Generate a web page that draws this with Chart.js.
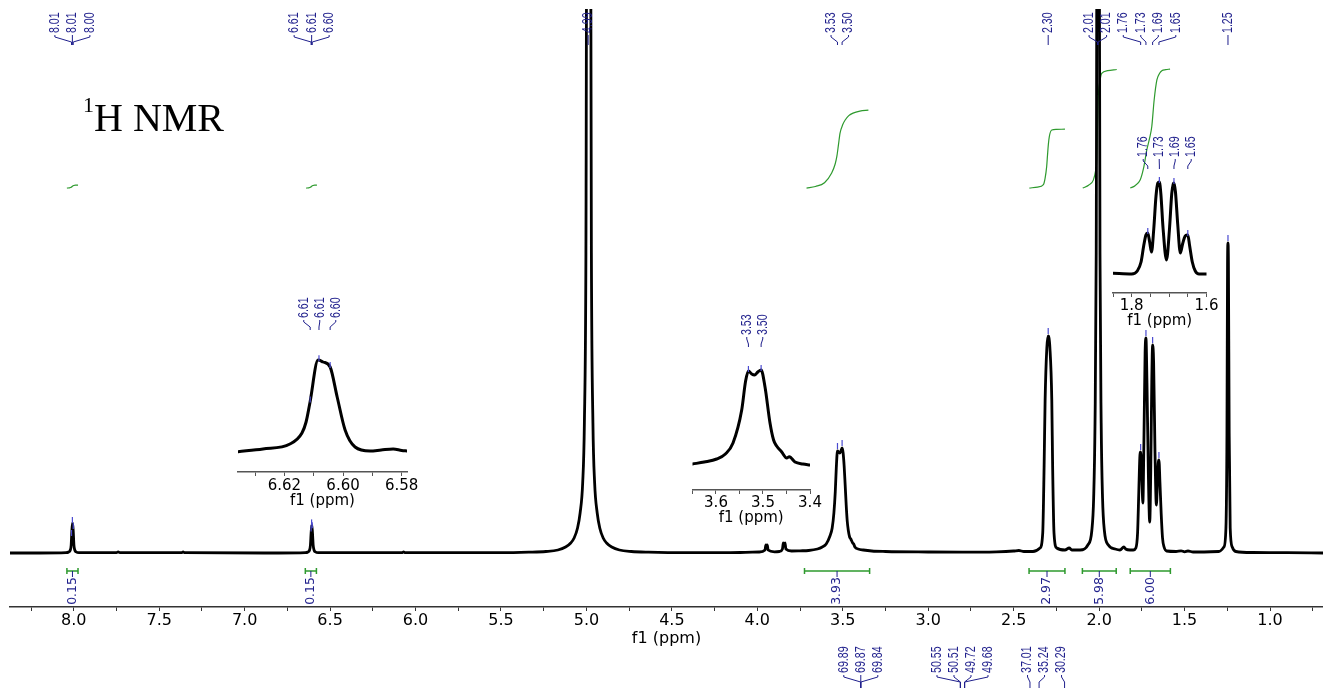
<!DOCTYPE html>
<html><head><meta charset="utf-8">
<script src="https://cdn.jsdelivr.net/npm/chart.js@4.4.0/dist/chart.umd.min.js"></script>
<style>
html,body{margin:0;padding:0;background:#fff;}
#wrap{position:relative;width:1323px;height:688px;overflow:hidden;background:#fff;}
canvas{position:absolute;}
</style></head><body>
<div id="wrap">
<canvas id="main" width="1323" height="688" style="left:0;top:0"></canvas>
<canvas id="in1"></canvas>
<canvas id="in2"></canvas>
<canvas id="in3"></canvas>
</div>
<script>
// ---------------- DATA ----------------
// main 1H spectrum: chemical shift (ppm) and intensity (arbitrary units)
const specPpm = [8.373,8.20,8.045,8.03,8.02,8.015,8.011,8.007,8.003,7.999,7.994,7.985,7.97,7.75,7.74,7.73,7.37,7.36,7.35,6.80,
6.645,6.63,6.62,6.615,6.611,6.607,6.603,6.599,6.594,6.585,6.57,6.08,6.07,6.06,5.50,
5.337,5.237,5.167,5.122,5.092,5.072,5.052,5.037,5.022,5.012,5.003,4.996,4.978,4.971,4.962,4.952,4.937,4.922,4.902,4.882,4.852,4.807,4.737,4.637,
4.40,4.10,3.99,3.955,3.950,3.946,3.942,3.937,3.90,3.87,3.853,3.848,3.843,3.838,3.833,3.80,3.75,3.70,
3.648,3.62,3.597,3.575,3.562,3.552,3.544,3.538,3.531,3.524,3.518,3.511,3.504,3.498,3.492,3.486,3.480,3.474,3.468,3.460,3.453,3.442,3.436,3.429,3.41,3.38,3.33,3.25,
3.00,2.80,2.60,2.50,2.47,2.44,2.387,2.346,2.330,2.322,2.316,2.306,2.298,2.288,2.277,2.272,2.264,2.248,2.20,2.175,2.16,2.111,
2.066,2.043,2.032,2.024,2.017,2.010,2.002,1.995,1.988,1.980,1.969,1.946,1.906,1.878,1.855,1.845,1.819,
1.80,1.785,1.775,1.768,1.762,1.757,1.750,1.744,1.738,1.731,1.726,1.720,1.712,1.704,1.698,1.692,1.687,1.681,1.673,1.665,1.659,1.654,1.650,1.644,1.637,1.629,1.620,1.605,
1.55,1.52,1.50,1.48,1.45,1.30,1.270,1.258,1.252,1.2485,1.246,1.2435,1.239,1.233,1.221,1.20,1.10,0.90,0.69];
const specInt = [0,0,0.3,1,3,8,22,30,22,8,3,1,0.3,0.3,1.2,0.3,0.3,1,0.3,0,
0.3,1,3,8,20,28,20,8,3,1,0.3,0.3,1,0.3,0.3,
0.8,1.5,3,6,10,15,25,40,70,130,300,800,800,300,130,70,40,25,15,10,6,3,1.5,0.8,
0.3,0.5,1,3,8,6,8,3,1.2,1.5,4,10,7,10,4,2,2.2,2.5,
4,6,9,17,25,40,61,85,102,101,100,102,105,100,87,68,48,32,23,16,14,10,9,6,4,3,2,1.5,
1,0.8,1.2,2,2.5,1.5,1.5,5,20,86,153,205,217,205,153,86,20,5,3,5,3,3,
8,22,55,130,300,800,800,300,130,55,22,8,4,3,6,4,3,
3,5,20,60,95,101,75,50,110,200,215,170,80,31,80,170,208,190,100,48,70,90,93,70,40,15,6,2,
1.5,2.2,1.2,2,1,1.5,6,25,120,290,310,290,120,25,6,1.5,0.5,0.3,0];

// integral curves (ppm, cumulative integral)
const intCurvePpm = [
  [8.040,8.025,8.015,8.008,8.000,7.990,7.975],
  [6.640,6.625,6.615,6.608,6.600,6.590,6.577],
  [3.712,3.660,3.607,3.565,3.545,3.535,3.525,3.516,3.500,3.486,3.465,3.440,3.400,3.350],
  [2.408,2.360,2.326,2.316,2.307,2.302,2.297,2.291,2.277,2.250,2.200],
  [2.096,2.060,2.034,2.020,2.014,2.011,2.008,2.005,1.995,1.985,1.950,1.897],
  [1.818,1.790,1.760,1.740,1.721,1.705,1.692,1.678,1.662,1.645,1.633,1.610,1.585]
];
const intCurveVal = [
  [0,0.01,0.04,0.09,0.13,0.15,0.15],
  [0,0.01,0.04,0.09,0.13,0.15,0.15],
  [0,0.08,0.27,0.76,1.20,1.58,2.20,2.77,3.20,3.43,3.65,3.78,3.88,3.93],
  [0,0.05,0.17,0.50,1.08,1.66,2.20,2.62,2.93,2.96,2.97],
  [0,0.15,0.40,0.90,1.41,2.50,3.60,4.60,5.40,5.78,5.92,5.98],
  [0,0.12,0.40,1.00,1.92,2.50,3.09,4.44,5.45,5.80,5.92,5.97,6.00]
];
// integral regions
const integralFrom  = [8.040, 6.645, 3.724, 2.410, 2.098, 1.818];
const integralTo    = [7.975, 6.580, 3.343, 2.200, 1.900, 1.583];
const integralValue = [0.15, 0.15, 3.93, 2.97, 5.98, 6.00];

// peak picking labels (1H)
const peakGroups = [[8.013,8.008,8.003],[6.6112,6.6082,6.6044],[4.990],[3.531,3.504],[2.298],[2.009,2.006],[1.757,1.726,1.687,1.650],[1.246]];
// 13C peak labels
const c13Groups = [[69.89,69.87,69.84],[50.55,50.51,49.72,49.68],[37.01,35.24,30.29]];

// axis ticks
const mainTicks = [8.25,8.0,7.75,7.5,7.25,7.0,6.75,6.5,6.25,6.0,5.75,5.5,5.25,5.0,4.75,4.5,4.25,4.0,3.75,3.5,3.25,3.0,2.75,2.5,2.25,2.0,1.75,1.5,1.25,1.0,0.75];
const mainTickLabels = [8.0,7.5,7.0,6.5,6.0,5.5,5.0,4.5,4.0,3.5,3.0,2.5,2.0,1.5,1.0];

// inset 1 (6.61)
const inset1Ppm = [6.6358,6.6273,6.6181,6.6140,6.6126,6.6113,6.6085,6.6068,6.6044,6.6020,6.5993,6.5959,6.5908,6.5870,6.5829,6.5800,6.5782];
const inset1Int = [0.3,3,8,19,30,49,92,90,85,55,22,5,1,2,3,1.5,1];
const inset1Ticks = [6.63,6.62,6.61,6.60,6.59,6.58];
const inset1TickLabels = [6.62,6.60,6.58];
const inset1Peaks = [[6.6112,6.6082,6.6044]];
// inset 2 (3.5)
const inset2Ppm = [3.650,3.625,3.5985,3.580,3.5638,3.5453,3.537,3.531,3.524,3.518,3.511,3.504,3.4957,3.4851,3.4775,3.471,3.4602,3.4496,3.444,3.4319,3.415,3.400];
const inset2Int = [2,4,7,12,23,56,85,95,92,91,94,96,79,43,26,20,14,8,9.3,4,2,1];
const inset2Ticks = [3.65,3.60,3.55,3.50,3.45,3.40];
const inset2TickLabels = [3.6,3.5,3.4];
const inset2Peaks = [[3.531,3.504]];
// inset 3 (1.7)
const inset3Ppm = [1.850,1.800,1.785,1.775,1.768,1.762,1.757,1.752,1.747,1.741,1.735,1.730,1.726,1.722,1.716,1.707,1.699,1.693,1.689,1.687,1.683,1.677,1.670,1.664,1.657,1.652,1.650,1.645,1.638,1.630,1.620,1.600];
const inset3Int = [0.7,0,3,12,28,39,41,32,22,45,78,91,92,80,45,14,45,80,90,91,82,50,21,30,38,39,39,28,12,3,0,0];
const inset3Ticks = [1.85,1.80,1.75,1.70,1.65,1.60];
const inset3TickLabels = [1.8,1.6];
const inset3Peaks = [[1.757,1.726,1.687,1.650]];

// ---------------- STYLE ----------------
const NAVY = '#1f1f8c';
const GREEN = '#2e9a2e';
const MARK = '#4a4ad0';
const LABEL_FONT = '14px "Liberation Sans", Arial, sans-serif';
const INT_FONT = '12.5px "DejaVu Sans", Verdana, sans-serif';
const AXIS_FAMILY = '"DejaVu Sans", Verdana, sans-serif';

function interp(pa, ia, p) {
  for (let i = 0; i < pa.length - 1; i++) {
    const a = pa[i], b = pa[i+1];
    if ((p <= a && p >= b) || (p >= a && p <= b)) {
      const t = (p - a) / (b - a);
      return ia[i] + t * (ia[i+1] - ia[i]);
    }
  }
  return 0;
}
function rotText(ctx, text, x, y, align, font, squeeze, color) {
  ctx.save();
  ctx.translate(x, y); ctx.rotate(-Math.PI/2); ctx.scale(squeeze, 1);
  ctx.font = font; ctx.fillStyle = color; ctx.textAlign = align; ctx.textBaseline = 'middle';
  ctx.fillText(text, 0, 0);
  ctx.restore();
}
function drawLabelGroups(ctx, xs, groups, textBottom, spacing, lineEnd) {
  ctx.save();
  ctx.strokeStyle = NAVY; ctx.lineWidth = 1;
  groups.forEach(g => {
    const px = g.map(p => xs.getPixelForValue(p));
    const mean = px.reduce((a, b) => a + b, 0) / px.length;
    g.forEach((p, i) => {
      const lx = mean + (i - (g.length - 1) / 2) * spacing;
      rotText(ctx, p.toFixed(2), lx, textBottom, 'left', LABEL_FONT, 0.76, NAVY);
      ctx.beginPath();
      ctx.moveTo(lx, textBottom + 2);
      ctx.lineTo(lx, textBottom + 4);
      ctx.lineTo(px[i], textBottom + 9);
      ctx.lineTo(px[i], textBottom + lineEnd);
      ctx.stroke();
    });
  });
  ctx.restore();
}
function drawMarkers(ctx, xs, ys, peaks, pa, ia, a, b) {
  ctx.save();
  ctx.strokeStyle = MARK; ctx.lineWidth = 1.2;
  peaks.forEach(p => {
    const h = interp(pa, ia, p);
    if (h > ys.max - 6) return;
    const x = xs.getPixelForValue(p), y = ys.getPixelForValue(h);
    ctx.beginPath(); ctx.moveTo(x, y + a); ctx.lineTo(x, y + b); ctx.stroke();
  });
  ctx.restore();
}

// ---------------- MAIN CHART ----------------
const mainDecor = {
  id: 'mainDecor',
  afterDatasetsDraw(chart) {
    const ctx = chart.ctx, xs = chart.scales.x, ys = chart.scales.y, xc = chart.scales.xC;
    ctx.save();
    ctx.fillStyle = '#000'; ctx.textAlign = 'left'; ctx.textBaseline = 'alphabetic';
    ctx.font = '22px "Liberation Serif", "Times New Roman", serif';
    ctx.fillText('1', 83, 112);
    ctx.font = '40px "Liberation Serif", "Times New Roman", serif';
    ctx.fillText('H NMR', 94, 131);
    ctx.restore();

    drawMarkers(ctx, xs, ys, peakGroups.flat(), specPpm, specInt, -8, -2);
    drawLabelGroups(ctx, xs, peakGroups, 33, 17.5, 12);

    // integral bars
    ctx.save();
    const yb = 571;
    integralFrom.forEach((f, i) => {
      const x1 = xs.getPixelForValue(f), x2 = xs.getPixelForValue(integralTo[i]);
      ctx.strokeStyle = GREEN; ctx.lineWidth = 1.5;
      ctx.beginPath();
      ctx.moveTo(x1, yb); ctx.lineTo(x2, yb);
      ctx.moveTo(x1, yb - 3); ctx.lineTo(x1, yb + 3);
      ctx.moveTo(x2, yb - 3); ctx.lineTo(x2, yb + 3);
      ctx.stroke();
      const cx = (x1 + x2) / 2;
      ctx.strokeStyle = NAVY; ctx.lineWidth = 1;
      ctx.beginPath(); ctx.moveTo(cx, yb); ctx.lineTo(cx, yb + 6); ctx.stroke();
      rotText(ctx, integralValue[i].toFixed(2), cx, yb + 6, 'right', INT_FONT, 1, NAVY);
    });
    ctx.restore();

    drawLabelGroups(ctx, xc, c13Groups, 673, 17, 16);
  }
};

new Chart(document.getElementById('main'), {
  type: 'line',
  data: {
    datasets: [
      { data: specPpm.map((p, i) => ({ x: p, y: specInt[i] })), borderColor: '#000', borderWidth: 2.8,
        pointRadius: 0, cubicInterpolationMode: 'monotone', borderJoinStyle: 'round', borderCapStyle: 'round',
        xAxisID: 'x', yAxisID: 'y' },
      ...intCurvePpm.map((arr, k) => ({
        data: arr.map((p, i) => ({ x: p, y: intCurveVal[k][i] })), borderColor: GREEN, borderWidth: 1.2,
        pointRadius: 0, cubicInterpolationMode: 'monotone', xAxisID: 'x', yAxisID: 'yInt' }))
    ]
  },
  options: {
    responsive: false, animation: false, devicePixelRatio: 1, events: [],
    layout: { padding: { left: 10, right: 0, top: 9, bottom: 0 } },
    plugins: { legend: { display: false }, tooltip: { enabled: false } },
    scales: {
      x: {
        type: 'linear', reverse: true, min: 0.69, max: 8.373, position: 'bottom',
        afterBuildTicks: s => { s.ticks = mainTicks.map(v => ({ value: v })); },
        afterFit: s => { s.height = 81; },
        ticks: { autoSkip: false, maxRotation: 0, minRotation: 0, padding: 0, color: '#000',
          font: { family: AXIS_FAMILY, size: 16 },
          callback: v => mainTickLabels.some(t => Math.abs(t - v) < 1e-9) ? Number(v).toFixed(1) : '' },
        grid: { drawOnChartArea: false, drawTicks: true, tickLength: 4, color: '#333' },
        border: { display: true, color: '#333', width: 1.5 },
        title: { display: true, text: 'f1 (ppm)', color: '#000', font: { family: AXIS_FAMILY, size: 16 },
          padding: { top: 0, bottom: 40 } }
      },
      xC: { type: 'linear', axis: 'x', display: false, reverse: true, min: -19.9, max: 235.1 },
      y: { display: false, min: -54, max: 544 },
      yInt: { display: false, min: -21.13, max: 9.03 }
    }
  },
  plugins: [mainDecor]
});

// ---------------- INSETS ----------------
function insetChart(id, box, xr, ticks, tickLabels, dec, ppm, inten, peaks) {
  const cv = document.getElementById(id);
  cv.width = box.w; cv.height = box.h;
  cv.style.left = box.l + 'px'; cv.style.top = box.t + 'px';
  const fs = 15, lh = fs * 1.2;
  const bottomAbs = box.t + box.h;
  return new Chart(cv, {
    type: 'line',
    data: { datasets: [{ data: ppm.map((p, i) => ({ x: p, y: inten[i] })), borderColor: '#000', borderWidth: 3,
      pointRadius: 0, cubicInterpolationMode: 'monotone', borderJoinStyle: 'round', borderCapStyle: 'round' }] },
    options: {
      responsive: false, animation: false, devicePixelRatio: 1, events: [],
      layout: { padding: { left: box.aL - box.l, right: box.l + box.w - box.aR, top: box.aT - box.t, bottom: 0 } },
      plugins: { legend: { display: false }, tooltip: { enabled: false } },
      scales: {
        x: {
          type: 'linear', reverse: true, min: xr[0], max: xr[1],
          afterBuildTicks: s => { s.ticks = ticks.map(v => ({ value: v })); },
          afterFit: s => { s.height = bottomAbs - box.axisY; },
          ticks: { autoSkip: false, maxRotation: 0, minRotation: 0, padding: Math.max(0, box.tickY - box.axisY - 4 - lh / 2),
            color: '#000', font: { family: AXIS_FAMILY, size: fs },
            callback: v => tickLabels.some(t => Math.abs(t - v) < 1e-9) ? Number(v).toFixed(dec) : '' },
          grid: { drawOnChartArea: false, drawTicks: true, tickLength: 4, color: '#555' },
          border: { display: true, color: '#555', width: 1.5 },
          title: { display: true, text: 'f1 (ppm)', color: '#000', font: { family: AXIS_FAMILY, size: fs },
            padding: { top: 0, bottom: Math.max(0, bottomAbs - box.titleY - lh / 2) } }
        },
        y: { display: false, min: -(box.axisY - box.baseY), max: box.baseY - box.aT }
      }
    },
    plugins: [{
      id: 'lab' + id,
      afterDatasetsDraw(chart) {
        const ctx = chart.ctx, xs = chart.scales.x, ys = chart.scales.y;
        drawMarkers(ctx, xs, ys, peaks.flat(), ppm, inten, -5, 1);
        drawLabelGroups(ctx, xs, peaks, box.labelBottom - box.t, 16, 12);
      }
    }]
  });
}

insetChart('in1', { l: 230, t: 290, w: 200, h: 220, aL: 238, aR: 407, aT: 340, axisY: 472, baseY: 452, tickY: 486, titleY: 501, labelBottom: 318 },
  [6.5782, 6.6358], inset1Ticks, inset1TickLabels, 2, inset1Ppm, inset1Int, inset1Peaks);
insetChart('in2', { l: 680, t: 300, w: 150, h: 230, aL: 692.5, aR: 810, aT: 350, axisY: 490, baseY: 466, tickY: 503, titleY: 518, labelBottom: 335 },
  [3.40, 3.65], inset2Ticks, inset2TickLabels, 1, inset2Ppm, inset2Int, inset2Peaks);
insetChart('in3', { l: 1100, t: 120, w: 130, h: 220, aL: 1113, aR: 1206.5, aT: 165, axisY: 293, baseY: 274, tickY: 305, titleY: 321, labelBottom: 157 },
  [1.60, 1.85], inset3Ticks, inset3TickLabels, 1, inset3Ppm, inset3Int, inset3Peaks);
</script>
</body></html>
